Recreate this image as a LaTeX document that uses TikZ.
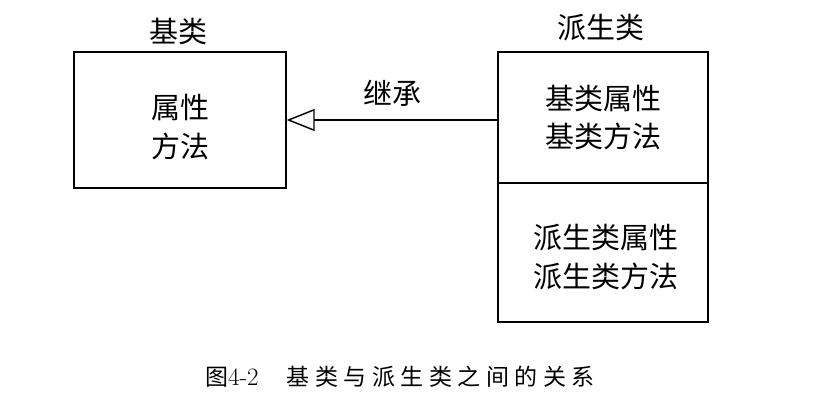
\documentclass[tikz,border=0pt]{standalone}
\usepackage{fontspec}
\newfontfamily\cjk{Noto Sans CJK SC}
\newfontfamily\cjkcap[LetterSpace=24]{Noto Sans CJK SC}
\usetikzlibrary{arrows.meta,positioning}
\begin{document}
\begin{tikzpicture}[x=1pt, y=-1pt, line width=1.4pt,
    classbox/.style={draw, black, align=center, inner sep=0pt,
        font=\cjk\fontsize{29}{38}\selectfont},
    title/.style={font=\cjk\fontsize{29}{32}\selectfont}]
    \useasboundingbox (0,0) rectangle (830,401);
    %
    \node[classbox, minimum width=212, minimum height=136] (base) at (180,120) {};
    \node[font=\cjk\fontsize{29}{39}\selectfont, align=center] (basetext) at (180,127) {属性\\方法};
    \node[classbox, minimum width=210, minimum height=131] (derivedtop) at (603,117.5) {基类属性\\基类方法};
    \node[classbox, minimum width=210, minimum height=139] (derivedbottom) at (603,252.5) {};
    \node[font=\cjk\fontsize{29}{39}\selectfont, align=center] (derivedtext) at (606,257) {派生类属性\\派生类方法};
    %
    \node[title] (basetitle) at (178,31) {基类};
    \node[title] (derivedtitle) at (601,28) {派生类};
    %
    \draw[-{Triangle[open, length=28pt, width=22pt, line width=1.4pt]}] (base.east -| derivedtop.west) -- (base.east)
        node[midway, above=9pt, font=\cjk\fontsize{29}{32}\selectfont] (inherit) {继承};
    %
    \node[anchor=west, font=\cjkcap\fontsize{23}{26}\selectfont] (caption) at (201,377) {图{\rmfamily\fontsize{25}{26}\selectfont 4-2}\hspace{28pt}基类与派生类之间的关系};
\end{tikzpicture}
\end{document}
